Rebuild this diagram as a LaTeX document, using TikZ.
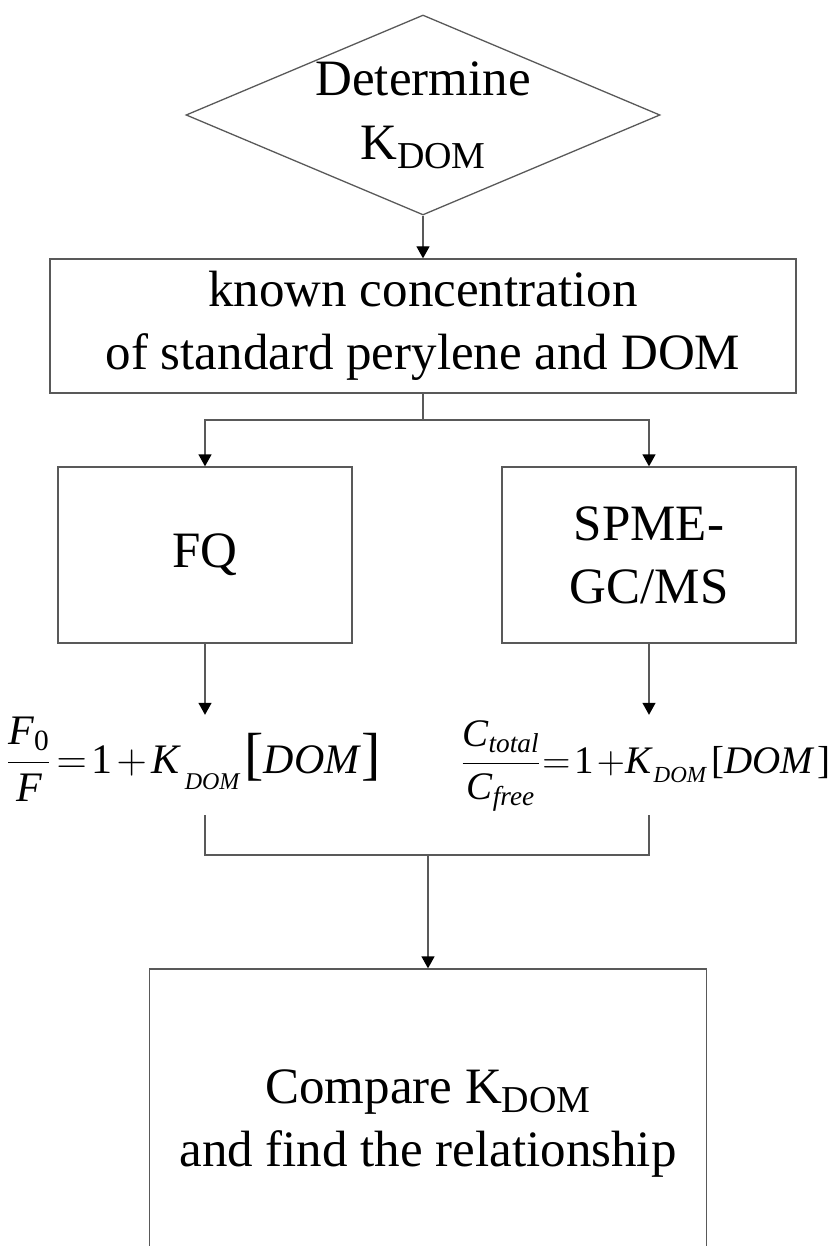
\RequirePackage{fix-cm}
\documentclass[tikz,border=0pt]{standalone}
\usepackage{amsmath}
\usepackage{fontspec}
\setmainfont{Liberation Serif}
\usetikzlibrary{arrows.meta, shapes.geometric, calc}

% K with a lowered DOM index, as set in the boxes
\newcommand{\Kdom}{K\raisebox{-9pt}{\fontsize{38}{38}\selectfont DOM}}
% tall square brackets for the FQ equation
\newcommand{\tallbrack}[1]{{\fontsize{58}{58}\selectfont#1}}

\begin{document}
\begin{tikzpicture}[x=1pt, y=-1pt,
    wire/.style={draw=black!65, line width=1.3pt},
    arr/.style={wire, -{Triangle[length=12pt, width=13pt, color=black]}},
    box/.style={draw=black!65, line width=1.3pt, rectangle, align=center,
        font=\fontsize{51}{63}\selectfont},
    decision/.style={draw=black!65, line width=1.3pt, diamond, aspect=2.37,
        align=center, inner sep=-6pt, minimum width=474pt, minimum height=200pt,
        font=\fontsize{51}{64}\selectfont},
    formula/.style={anchor=base, inner sep=0pt, text height=58pt, text depth=42pt}]
    \useasboundingbox (0,0) rectangle (832,1246);
    \clip (0,0) rectangle (832,1246);

    % Decision at the top
    \node[decision] (det) at (423,115) {Determine\\\Kdom};

    % Sample preparation
    \node[box, minimum width=746pt, minimum height=134pt] (known) at (423,326)
        {known concentration\\of standard perylene and DOM};

    % The two methods
    \node[box, minimum width=294pt, minimum height=176pt] (fq) at (205,555) {FQ};
    \node[box, minimum width=294pt, minimum height=176pt] (spme) at (649,555) {SPME-\\GC/MS};

    % Equations used by each method
    \node[formula, font=\fontsize{42}{50}\selectfont] (fqeq) at (194,773)
        {$\dfrac{\textit{F}_{\text{0}}}{\textit{F}}$\hspace{6pt}$=$\hspace{5pt}1\hspace{4pt}$+$\hspace{5pt}\textit{K}\hspace{3pt}\raisebox{-16pt}{\fontsize{24}{24}\selectfont\textit{DOM}}\hspace{4pt}\tallbrack{[}\textit{DOM}\tallbrack{]}};
    \node[formula, font=\fontsize{39}{46}\selectfont] (spmeeq) at (646,773)
        {$\dfrac{\textit{C}_{\textit{total}}}{\textit{C}_{\textit{free}}}$\hspace{2pt}$=$\hspace{4pt}1\hspace{3pt}$+$\hspace{1pt}\textit{K}\raisebox{-9pt}{\fontsize{23}{23}\selectfont\textit{DOM}}\hspace{4pt}[\textit{DOM}\hspace{3pt}]};

    % Final step, runs off the bottom of the page
    \node[box, minimum width=557pt, minimum height=310pt] (cmp) at (428,1124)
        {Compare \Kdom\\and find the relationship};

    % Draw the flow between the steps
    \draw[arr] (det.south) -- (known.north);
    \coordinate (fork) at (423,420);
    \draw[wire] (known.south) -- (fork);
    \draw[arr] (fork) -| (fq.north);
    \draw[arr] (fork) -| (spme.north);
    \draw[arr] (fq) -- (fq |- fqeq.north);
    \draw[arr] (spme) -- (spme |- spmeeq.north);

    % Join both results into the comparison
    \coordinate (join) at (428,855);
    \draw[wire] (fq |- fqeq.south) |- (join) -| (spme |- spmeeq.south);
    \draw[arr] (join) -- (cmp.north);
\end{tikzpicture}
\end{document}
